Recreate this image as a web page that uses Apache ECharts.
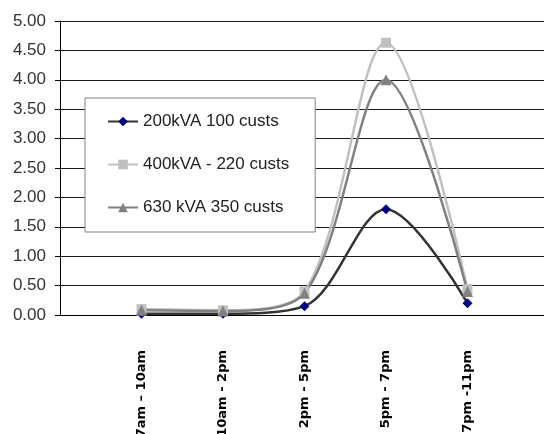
<!DOCTYPE html>
<html>
<head>
<meta charset="utf-8">
<script src="https://cdn.jsdelivr.net/npm/echarts@6/dist/echarts.min.js"></script>
<style>html,body{margin:0;padding:0;background:#fff;}#c{width:544px;height:434px;}</style>
</head>
<body>
<div id="c"></div>
<script>
const categories = ['', '7am \u2013 10am', '10am - 2pm', '2pm - 5pm', '5pm - 7pm', '7pm -11pm', ''];
const s200 = [null, 0.02, 0.02, 0.15, 1.80, 0.20, null];
const s400 = [null, 0.10, 0.08, 0.40, 4.63, 0.44, null];
const s630 = [null, 0.08, 0.07, 0.37, 4.00, 0.40, null];
const seriesNames = ['200kVA 100 custs', '400kVA - 220 custs', '630 kVA 350 custs'];

const chart = echarts.init(document.getElementById('c'), null, {renderer: 'canvas'});
const mk = (name, data, color, mColor, symbol, size) => ({
  name, type: 'line', data, smooth: 0.33, symbol, symbolSize: size,
  lineStyle: {color, width: 2.5},
  itemStyle: {color: mColor, borderWidth: 0},
  emphasis: {disabled: true}
});
chart.setOption({
  animation: false,
  backgroundColor: '#fff',
  grid: {left: 60, top: 21, right: -5, bottom: 119, containLabel: false, outerBoundsMode: 'none'},
  legend: {
    orient: 'vertical', left: 85, top: 98,
    padding: [15, 26, 16, 22], itemGap: 26, itemWidth: 30, itemHeight: 12,
    backgroundColor: '#fff', borderColor: '#808080', borderWidth: 1,
    textStyle: {fontFamily: 'Liberation Sans', fontSize: 17, color: '#222'},
    data: seriesNames
  },
  xAxis: {
    type: 'category', data: categories, boundaryGap: false,
    axisLine: {lineStyle: {color: '#000', width: 1}},
    axisTick: {show: false},
    axisLabel: {interval: 0, rotate: 90, margin: 35, fontFamily: 'DejaVu Sans', fontWeight: 'bold', fontSize: 13, color: '#000'},
    splitLine: {show: false}
  },
  yAxis: {
    type: 'value', min: 0, max: 5, interval: 0.5,
    axisLine: {show: true, lineStyle: {color: '#000', width: 1}},
    axisTick: {show: true, length: 5, lineStyle: {color: '#000'}},
    axisLabel: {margin: 14, fontFamily: 'Liberation Sans', fontSize: 17, color: '#333', formatter: v => v.toFixed(2)},
    splitLine: {lineStyle: {color: '#1a1a1a', width: 1}}
  },
  series: [
    mk(seriesNames[0], s200, '#333333', '#000080', 'diamond', 10),
    mk(seriesNames[1], s400, '#C0C0C0', '#C0C0C0', 'rect', 10),
    mk(seriesNames[2], s630, '#808080', '#808080', 'triangle', 11)
  ]
});
</script>
</body>
</html>
